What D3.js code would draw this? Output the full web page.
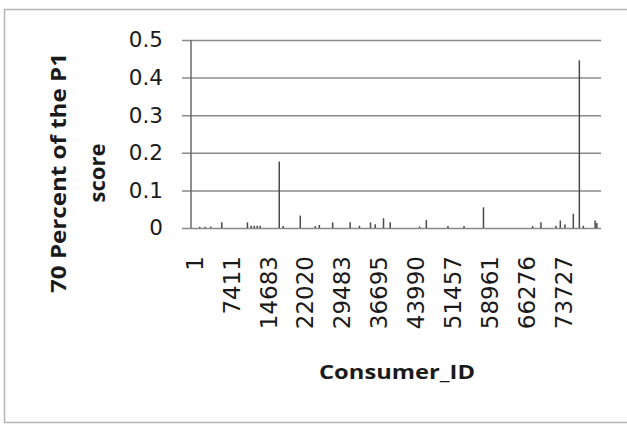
<!DOCTYPE html>
<html>
<head>
<meta charset="utf-8">
<script src="https://cdn.jsdelivr.net/npm/d3@7"></script>
<style>
  body { margin: 0; background: #fff; }
  svg { display: block; }
</style>
</head>
<body>
<svg id="chart" width="627" height="424"></svg>
<script>
// consumer ids shown on the category axis (every Nth consumer)
const tickIds = [1, 7411, 14683, 22020, 29483, 36695, 43990, 51457, 58961, 66276, 73727];
const lastId = 81400;
const yTicks = [0, 0.1, 0.2, 0.3, 0.4, 0.5];

// non-zero scores
const consumerIds = [1150, 2215, 3365, 5580, 10669, 11403, 11992, 12589, 13178, 16957,
    17750, 21140, 24169, 24983, 27677, 31149, 32974, 35130, 36046, 37687,
    39015, 44841, 46200, 50583, 53843, 57798, 67595, 69271, 72311, 73183,
    74129, 75813, 77027, 77839, 80208, 80551];
const scores = [0.003, 0.003, 0.003, 0.015, 0.015, 0.006, 0.006, 0.006, 0.006, 0.177,
    0.005, 0.033, 0.005, 0.008, 0.015, 0.015, 0.006, 0.015, 0.010, 0.026,
    0.015, 0.004, 0.021, 0.005, 0.005, 0.055, 0.005, 0.015, 0.006, 0.020,
    0.009, 0.038, 0.446, 0.006, 0.020, 0.013];

const data = consumerIds.map((id, i) => ({id: id, value: scores[i]}));

const svg = d3.select("#chart");
const plot = {left: 191, right: 601, top: 40, bottom: 228};
const firstTick = 194, step = 36.9;

// outer chart border (right edge is cropped off)
svg.append("path")
    .attr("d", `M627,9.5 H4.5 V422.5 H627`)
    .attr("fill", "none")
    .attr("stroke", "#b4b4b4")
    .attr("stroke-width", 1.5);

// category axis: ticks evenly spaced, ids between them placed proportionally
const x = d3.scaleLinear()
    .domain(tickIds.concat([lastId]))
    .range(tickIds.map((d, i) => firstTick + i * step).concat([plot.right]));

const y = d3.scaleLinear()
    .domain([0, 0.5])
    .range([plot.bottom, plot.top]);

// gridlines + y axis
const yAxis = d3.axisLeft(y)
    .tickValues(yTicks)
    .tickSize(-(plot.right - plot.left))
    .tickSizeOuter(0)
    .tickFormat(d => d === 0 ? "0" : d3.format(".1f")(d));

const yAxisGroup = svg.append("g")
    .attr("class", "yAxis")
    .attr("transform", `translate(${plot.left},0)`)
    .call(yAxis);

yAxisGroup.select(".domain").remove();
yAxisGroup.selectAll("line")
    .attr("x1", -9)
    .attr("stroke", "#8a8a8a")
    .attr("stroke-width", 1.5);
yAxisGroup.selectAll("text")
    .attr("x", -28)
    .attr("font-family", "DejaVu Sans")
    .attr("font-size", 21.5)
    .attr("fill", "#1a1a1a");

// bars
svg.selectAll("line.bar")
    .data(data)
    .enter()
    .append("line")
    .attr("class", "bar")
    .attr("x1", d => x(d.id))
    .attr("x2", d => x(d.id))
    .attr("y1", y(0))
    .attr("y2", d => y(d.value))
    .attr("stroke", "#4a4a4a")
    .attr("stroke-width", 1.5);

// vertical axis line
svg.append("line")
    .attr("x1", plot.left).attr("x2", plot.left)
    .attr("y1", plot.top).attr("y2", plot.bottom)
    .attr("stroke", "#6a6a6a")
    .attr("stroke-width", 1.5);

// x axis labels, rotated
const xAxis = d3.axisBottom(x)
    .tickValues(tickIds)
    .tickSize(0)
    .tickFormat(d => String(d));

const xAxisGroup = svg.append("g")
    .attr("class", "xAxis")
    .attr("transform", `translate(0,${plot.bottom})`)
    .call(xAxis);

xAxisGroup.select(".domain").remove();
xAxisGroup.selectAll("text")
    .attr("transform", "rotate(-90)")
    .attr("text-anchor", "end")
    .attr("x", -28)
    .attr("y", 0)
    .attr("dy", "0.36em")
    .attr("font-family", "DejaVu Sans")
    .attr("font-size", 23)
    .attr("fill", "#1a1a1a");

// axis titles
svg.append("text")
    .attr("x", 397)
    .attr("y", 379)
    .attr("text-anchor", "middle")
    .attr("font-family", "Open Sans")
    .attr("font-weight", "bold")
    .attr("font-size", 20)
    .attr("textLength", 156)
    .attr("lengthAdjust", "spacingAndGlyphs")
    .attr("fill", "#1a1a1a")
    .text("Consumer_ID");

const yTitle = svg.append("text")
    .attr("transform", "translate(0,173) rotate(-90)")
    .attr("text-anchor", "middle")
    .attr("font-family", "Open Sans")
    .attr("font-weight", "bold")
    .attr("font-size", 22)
    .attr("fill", "#1a1a1a");
yTitle.append("tspan").attr("x", 0).attr("y", 66).attr("textLength", 240)
    .attr("lengthAdjust", "spacingAndGlyphs").text("70 Percent of the P1");
yTitle.append("tspan").attr("x", 0).attr("y", 105).text("score");
</script>
</body>
</html>
